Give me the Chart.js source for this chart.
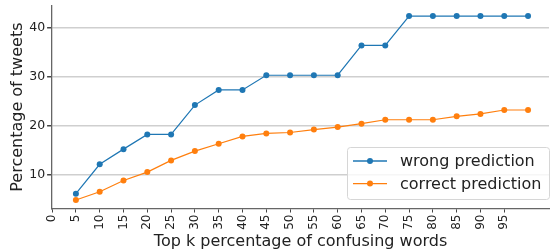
<!DOCTYPE html>
<html>
<head>
<meta charset="utf-8">
<script src="https://cdn.jsdelivr.net/npm/chart.js@4"></script>
<style>
  html, body { margin: 0; padding: 0; background: #fff; }
  #wrap { width: 553px; height: 251px; }
</style>
</head>
<body>
<div id="wrap"><canvas id="c" width="553" height="251"></canvas></div>
<script>
const topK = [5, 10, 15, 20, 25, 30, 35, 40, 45, 50, 55, 60, 65, 70, 75, 80, 85, 90, 95, 100];
const wrongPred = [6.1, 12.1, 15.2, 18.2, 18.2, 24.2, 27.3, 27.3, 30.3, 30.3, 30.3, 30.3, 36.4, 36.4, 42.4, 42.4, 42.4, 42.4, 42.4, 42.4];
const correctPred = [4.8, 6.5, 8.8, 10.5, 12.9, 14.8, 16.3, 17.8, 18.4, 18.6, 19.2, 19.7, 20.4, 21.2, 21.2, 21.2, 21.9, 22.4, 23.2, 23.2];
const xTicks = [0, 5, 10, 15, 20, 25, 30, 35, 40, 45, 50, 55, 60, 65, 70, 75, 80, 85, 90, 95];
const yTicks = [10, 20, 30, 40];

const FONT = 'DejaVu Sans';
const BLUE = '#1f77b4';
const ORANGE = '#ff7f0e';

const toPoints = (vals) => topK.map((x, i) => ({ x, y: vals[i] }));

// legend box drawn inside the plot, bottom right
const boxLegend = {
    id: 'boxLegend',
    afterDraw(chart) {
        const { ctx } = chart;
        const x0 = 347, y0 = 147, w = 202, h = 52;
        ctx.save();
        ctx.fillStyle = 'rgba(255,255,255,0.8)';
        ctx.strokeStyle = '#d6d6d6';
        ctx.lineWidth = 1;
        ctx.beginPath();
        ctx.roundRect(x0 + 0.5, y0 + 0.5, w, h, 3);
        ctx.fill();
        ctx.stroke();
        ctx.font = '16px ' + FONT;
        ctx.textBaseline = 'middle';
        chart.data.datasets.forEach((ds, i) => {
            const ly = y0 + 14 + i * 22.6;
            ctx.strokeStyle = ds.borderColor;
            ctx.lineWidth = 1.3;
            ctx.beginPath();
            ctx.moveTo(x0 + 6, ly);
            ctx.lineTo(x0 + 40, ly);
            ctx.stroke();
            ctx.fillStyle = ds.borderColor;
            ctx.beginPath();
            ctx.arc(x0 + 23, ly, 3, 0, Math.PI * 2);
            ctx.fill();
            ctx.fillStyle = '#222';
            ctx.fillText(ds.label, x0 + 53, ly + 1);
        });
        ctx.restore();
    },
};

new Chart(document.getElementById('c'), {
    type: 'line',
    data: {
        datasets: [{
            label: 'wrong prediction',
            data: toPoints(wrongPred),
            borderColor: BLUE,
            backgroundColor: BLUE,
            borderWidth: 1.2,
            pointRadius: 3,
            pointBorderWidth: 0,
            tension: 0,
        }, {
            label: 'correct prediction',
            data: toPoints(correctPred),
            borderColor: ORANGE,
            backgroundColor: ORANGE,
            borderWidth: 1.2,
            pointRadius: 3,
            pointBorderWidth: 0,
            tension: 0,
        }],
    },
    options: {
        responsive: false,
        animation: false,
        layout: { padding: { left: 8, right: 0, top: 0, bottom: 0 } },
        plugins: {
            legend: { display: false },
            tooltip: { enabled: false },
        },
        scales: {
            x: {
                type: 'linear',
                min: 0,
                max: 104.4,
                afterBuildTicks: (axis) => { axis.ticks = xTicks.map(v => ({ value: v })); },
                grid: { drawOnChartArea: false, drawTicks: true, tickLength: 4, color: '#444', tickWidth: 1 },
                border: { display: true, color: '#666', width: 1.3 },
                ticks: {
                    autoSkip: false,
                    minRotation: 90,
                    maxRotation: 90,
                    padding: 2,
                    font: { family: FONT, size: 12 },
                    color: '#222',
                },
                title: {
                    display: true,
                    text: 'Top k percentage of confusing words',
                    font: { family: FONT, size: 16 },
                    color: '#222',
                    padding: { top: 0, bottom: 0 },
                },
            },
            y: {
                min: 3.06,
                max: 44.5,
                afterBuildTicks: (axis) => { axis.ticks = yTicks.map(v => ({ value: v })); },
                grid: { color: '#cfcfcf', lineWidth: 1.5, drawTicks: true, tickLength: 5, tickColor: '#444' },
                border: { display: true, color: '#666', width: 1.3 },
                ticks: {
                    padding: 2,
                    font: { family: FONT, size: 12.5, lineHeight: 0.6 },
                    color: '#222',
                },
                title: {
                    display: true,
                    text: 'Percentage of tweets',
                    font: { family: FONT, size: 16 },
                    color: '#222',
                    padding: { top: 0, bottom: 0 },
                },
            },
        },
    },
    plugins: [boxLegend],
});
</script>
</body>
</html>
